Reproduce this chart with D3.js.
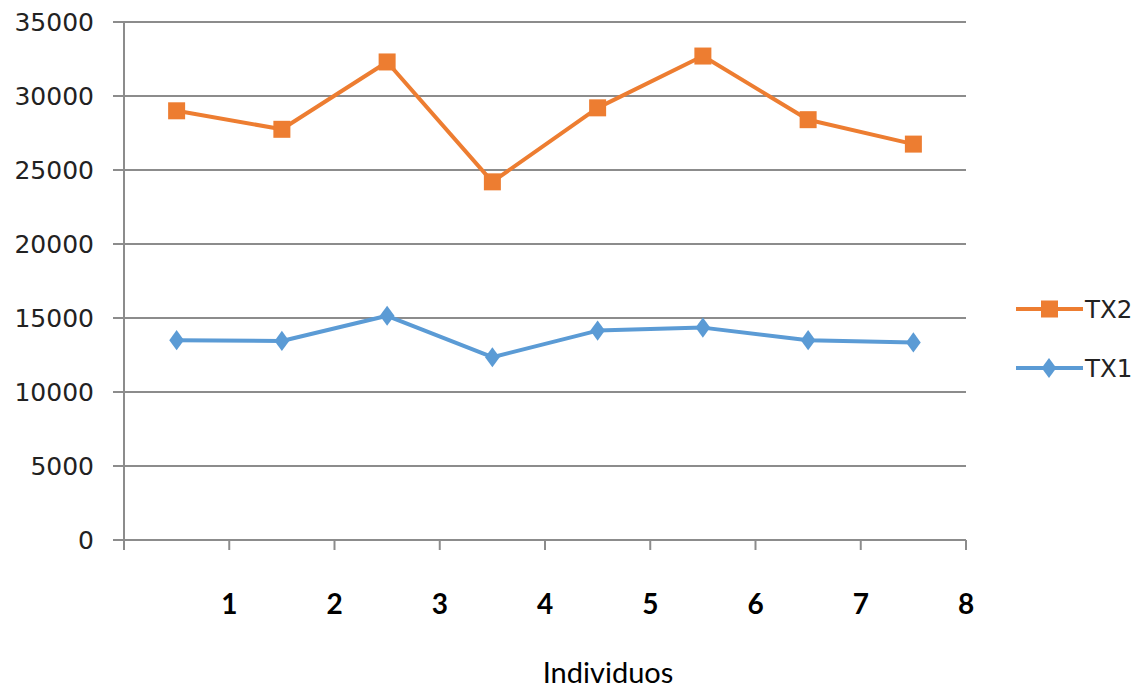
<!DOCTYPE html>
<html><head><meta charset="utf-8">
<script src="https://cdn.jsdelivr.net/npm/d3@7"></script>
<style>body{margin:0;background:#fff}</style>
</head><body>
<svg id="c" width="1140" height="688"></svg>
<script>
const categories = [1, 2, 3, 4, 5, 6, 7, 8];
const tx2 = [29000, 27750, 32300, 24200, 29200, 32700, 28400, 26750];
const tx1 = [13500, 13450, 15150, 12350, 14150, 14350, 13500, 13350];
const yTicks = [0, 5000, 10000, 15000, 20000, 25000, 30000, 35000];
const xTickLabels = ["1", "2", "3", "4", "5", "6", "7", "8"];
const seriesNames = ["TX2", "TX1"];

const svg = d3.select("#c");
const L = 124, R = 966, T = 22, B = 540;
const grid = "#8c8c8c";
const orange = "#ED7D31", blue = "#5B9BD5";

const y = d3.scaleLinear().domain([0, 35000]).range([B, T]);
const xEdge = d3.scaleLinear().domain([0, categories.length]).range([L, R]);
const xPt = i => xEdge(i + 0.5);

// gridlines
svg.append("g").selectAll("line").data(yTicks).join("line")
  .attr("x1", L - 11).attr("x2", R).attr("y1", d => y(d)).attr("y2", d => y(d))
  .attr("stroke", grid).attr("stroke-width", 2);

// left axis line
svg.append("line").attr("x1", L).attr("x2", L).attr("y1", T).attr("y2", B + 10)
  .attr("stroke", grid).attr("stroke-width", 2);

// x ticks
svg.append("g").selectAll("line").data(d3.range(1, categories.length + 1)).join("line")
  .attr("x1", d => xEdge(d)).attr("x2", d => xEdge(d)).attr("y1", B).attr("y2", B + 10)
  .attr("stroke", grid).attr("stroke-width", 2);

// y labels
svg.append("g").selectAll("text").data(yTicks).join("text")
  .attr("x", 94).attr("y", d => y(d)).attr("dy", "0.36em")
  .attr("text-anchor", "end").attr("font-family", "DejaVu Sans").attr("font-size", 25)
  .attr("fill", "#222").text(d => d);

// x labels
svg.append("g").selectAll("text").data(xTickLabels).join("text")
  .attr("x", (d, i) => xEdge(i + 1)).attr("y", 614)
  .attr("text-anchor", "middle").attr("font-family", "Lato").attr("font-weight", "bold")
  .attr("font-size", 28).attr("fill", "#000").text(d => d);

// x title
svg.append("text").attr("x", 608).attr("y", 683).attr("text-anchor", "middle")
  .attr("font-family", "Lato").attr("font-size", 29).attr("fill", "#000").text("Individuos");

const line = d3.line().x((d, i) => xPt(i)).y(d => y(d));
const diamond = d3.symbol().type(d3.symbolDiamond).size(130);

// TX1
svg.append("path").datum(tx1).attr("d", line).attr("fill", "none")
  .attr("stroke", blue).attr("stroke-width", 4).attr("stroke-linejoin", "round");
svg.append("g").selectAll("path").data(tx1).join("path")
  .attr("d", diamond).attr("transform", (d, i) => `translate(${xPt(i)},${y(d)}) scale(1.2,0.95)`)
  .attr("fill", blue);

// TX2
svg.append("path").datum(tx2).attr("d", line).attr("fill", "none")
  .attr("stroke", orange).attr("stroke-width", 4).attr("stroke-linejoin", "round");
svg.append("g").selectAll("rect").data(tx2).join("rect")
  .attr("x", (d, i) => xPt(i) - 8.5).attr("y", d => y(d) - 8.5)
  .attr("width", 17).attr("height", 17).attr("fill", orange);

// legend
const leg = [{name: seriesNames[0], color: orange, y: 309, shape: "sq"},
             {name: seriesNames[1], color: blue, y: 368, shape: "di"}];
const lg = svg.append("g").selectAll("g").data(leg).join("g");
lg.append("line").attr("x1", 1016).attr("x2", 1083).attr("y1", d => d.y).attr("y2", d => d.y)
  .attr("stroke", d => d.color).attr("stroke-width", 4);
lg.filter(d => d.shape === "sq").append("rect").attr("x", 1041).attr("y", d => d.y - 8.5)
  .attr("width", 17).attr("height", 17).attr("fill", d => d.color);
lg.filter(d => d.shape === "di").append("path").attr("d", diamond)
  .attr("transform", d => `translate(1049,${d.y}) scale(1.2,0.95)`).attr("fill", d => d.color);
lg.append("text").attr("x", 1085).attr("y", d => d.y).attr("dy", "0.36em")
  .attr("font-family", "DejaVu Sans").attr("font-size", 24.5).attr("fill", "#222").text(d => d.name);
</script>
</body></html>
